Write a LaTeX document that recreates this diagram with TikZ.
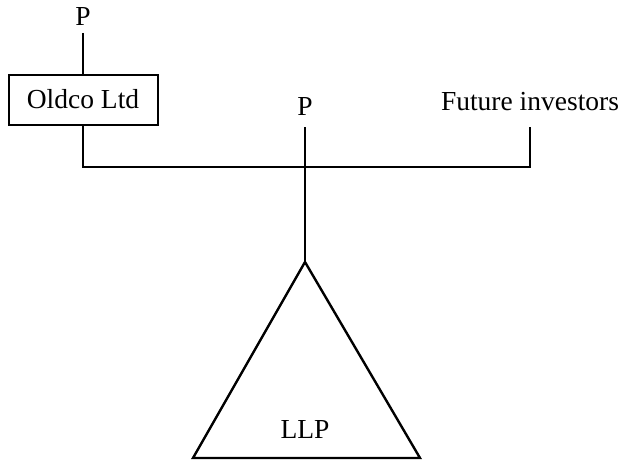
\documentclass[tikz,border=0pt]{standalone}
\usepackage{fontspec}
\setmainfont{Liberation Serif}
\begin{document}
\begin{tikzpicture}[x=1pt,y=-1pt,
  line width=2.4pt,
  lbl/.style={inner sep=0pt,anchor=base,font=\fontsize{27.5}{30}\selectfont},
  boxstyle/.style={draw,line width=2pt,minimum width=149pt,minimum height=50pt,inner sep=0pt,font=\fontsize{27.5}{30}\selectfont}]
\useasboundingbox (0,0) rectangle (623,460);
\node[lbl,outer ysep=7pt] (p1) at (83,26) {P};
\node[boxstyle] (oldco) at (83,99.5) {Oldco Ltd};
\node[lbl,outer ysep=12pt] (pm) at (305,115) {P};
\node[lbl,outer ysep=17pt] (fi) at (530,110) {Future investors};
\coordinate (j) at (305,167);
\coordinate (apex) at (305,262);
\coordinate (bl) at (193,458);
\coordinate (br) at (420,458);
\draw (p1.south) -- (oldco.north);
\draw (oldco.south) |- (j) -| (fi.south);
\draw (pm.south) -- (apex);
\draw[line join=miter] (apex) -- (br) -- (bl) -- cycle;
\node[lbl] (llp) at (305,438) {LLP};
\end{tikzpicture}
\end{document}
